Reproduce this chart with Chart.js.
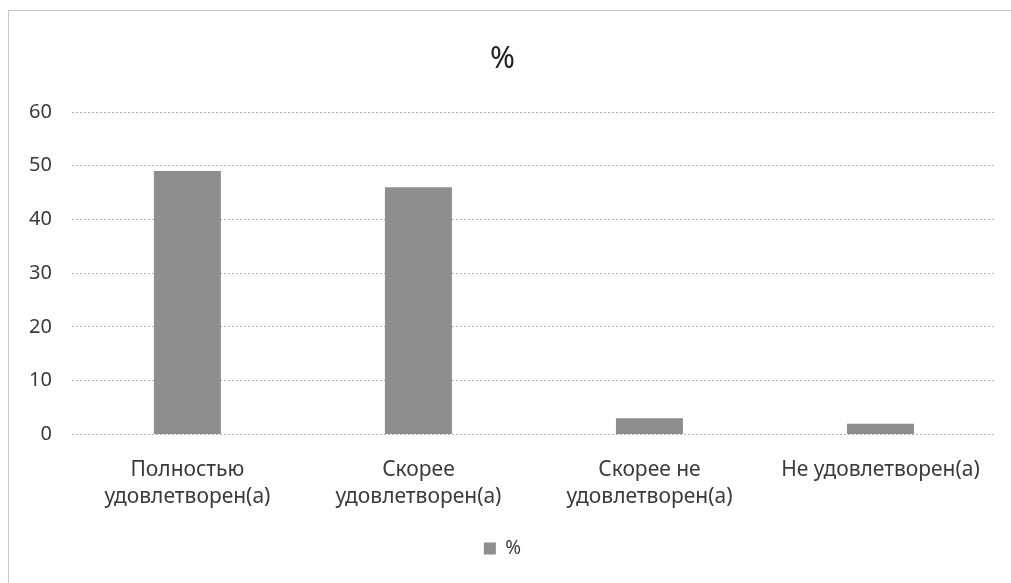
<!DOCTYPE html>
<html>
<head>
<meta charset="utf-8">
<script src="https://cdn.jsdelivr.net/npm/chart.js@4"></script>
<style>
  html, body { margin: 0; padding: 0; background: #fff; }
  .wrap {
    position: absolute; left: 8px; top: 10px; width: 1003px; height: 573px;
    border-left: 1px solid #c8c8c8; border-top: 1px solid #c8c8c8;
    box-sizing: border-box;
  }
  canvas { display: block; }
</style>
</head>
<body>
<div class="wrap"><canvas id="chart"></canvas></div>
<script>
const categories = [
  ['Полностью', 'удовлетворен(а)'],
  ['Скорее', 'удовлетворен(а)'],
  ['Скорее не', 'удовлетворен(а)'],
  ['Не удовлетворен(а)'],
]
const percents = [49, 46, 3, 2]
const yTicks = [0, 10, 20, 30, 40, 50, 60]

const textColor = '#3a3a3a'
const font = 'Noto Sans'

new Chart(document.getElementById('chart').getContext('2d'), {
  type: 'bar',
  data: {
    labels: categories,
    datasets: [
      {
        label: '%',
        data: percents,
        backgroundColor: '#8e8e8e',
        borderWidth: 0,
        categoryPercentage: 1,
        barPercentage: 0.29,
      },
    ],
  },
  options: {
    responsive: true,
    maintainAspectRatio: false,
    animation: false,
    layout: { padding: { left: 0, right: 15, top: 0, bottom: 15 } },
    scales: {
      y: {
        min: 0,
        max: 60,
        afterBuildTicks: (axis) => {
          axis.ticks = yTicks.map((v) => ({ value: v }))
        },
        border: { display: false, dash: [2, 2] },
        grid: {
          color: '#b4b4b4',
          lineWidth: 1,
          drawTicks: false,
        },
        ticks: {
          color: textColor,
          font: { family: font, size: 20 },
          padding: 20,
        },
      },
      x: {
        border: { display: false },
        grid: { display: false },
        ticks: {
          color: textColor,
          font: { family: font, size: 21, lineHeight: 1.3 },
          padding: 14,
          maxRotation: 0,
          autoSkip: false,
        },
      },
    },
    plugins: {
      title: {
        display: true,
        text: '%',
        color: '#222',
        font: { family: font, size: 30, weight: 'normal' },
        padding: { top: 30, bottom: 35 },
      },
      legend: {
        position: 'bottom',
        labels: {
          color: textColor,
          font: { family: font, size: 19 },
          boxWidth: 12,
          boxHeight: 12,
          padding: 14,
        },
      },
      tooltip: { enabled: false },
    },
  },
})
</script>
</body>
</html>
